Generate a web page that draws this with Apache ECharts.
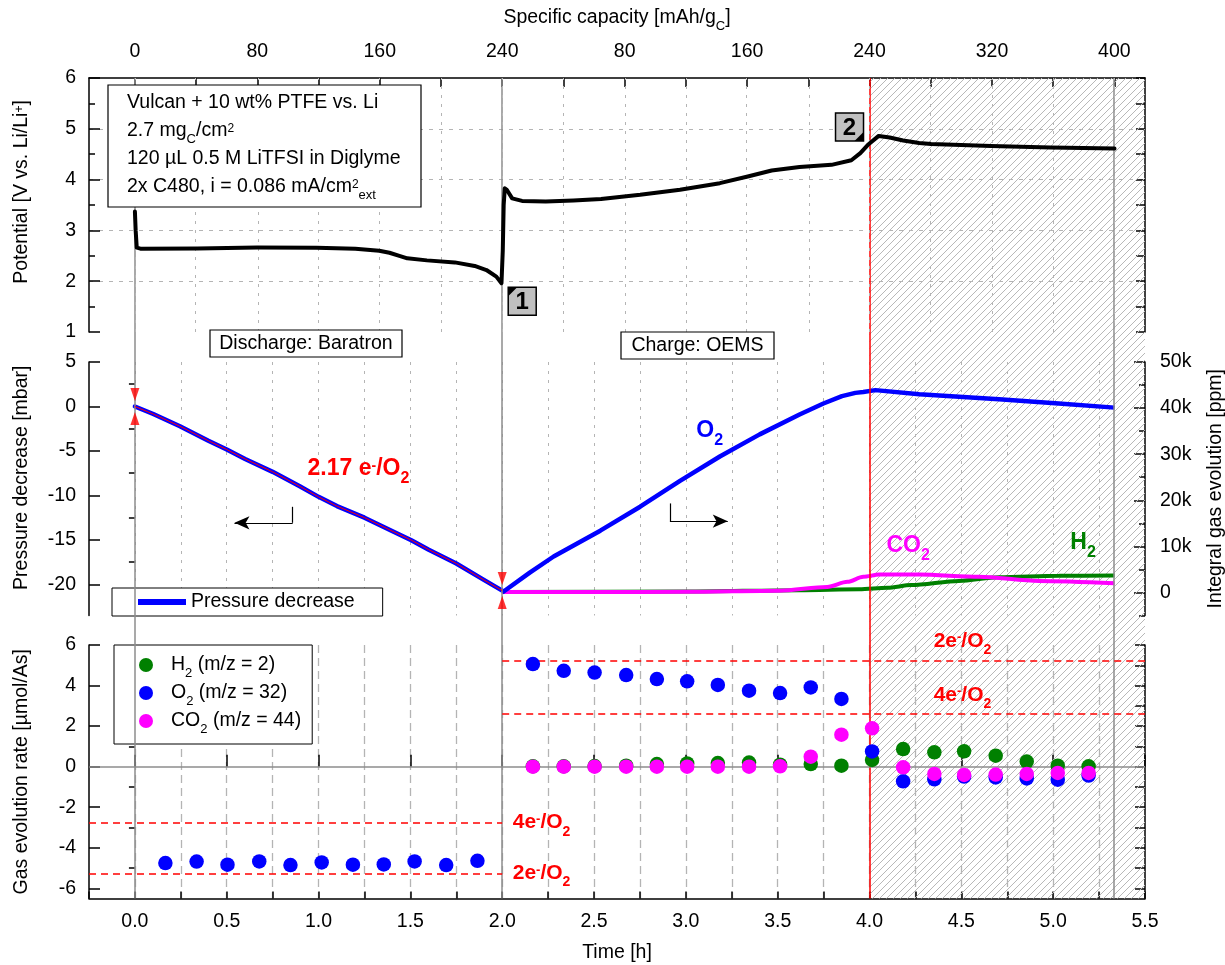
<!DOCTYPE html>
<html>
<head>
<meta charset="utf-8">
<script src="https://cdn.jsdelivr.net/npm/echarts@6/dist/echarts.min.js"></script>
<style>
  html, body { margin: 0; padding: 0; background: #fff; }
  #chart { width: 1225px; height: 965px; }
</style>
</head>
<body>
<div id="chart"></div>
<script>
// ---------------- data ----------------
// time window and phase boundaries [h]
const timeRange = [-0.25, 5.5];
const dischargeEnd = 2.0;
const limitStart = 4.0;

// specific capacity scale (top axis)
const capacityPerHour = 120;          // mAh/gC per hour
const dischargeCapacity = 240;
const chargeEndCapacity = 400;
const capacityTickStep = 40;
const capacityDischargeLabels = [0, 80, 160, 240];
const capacityChargeLabels = [80, 160, 240, 320, 400];

// tick labels
const timeLabels = [0, 0.5, 1, 1.5, 2, 2.5, 3, 3.5, 4, 4.5, 5, 5.5];
const potentialRange = [1, 6];
const pressureRange = [-23.5, 5];
const pressureLabels = [5, 0, -5, -10, -15, -20];
const pressureMinorTicks = [2.5, -2.5, -7.5, -12.5, -17.5, -22.5];
const ppmRange = [-5000, 50000];
const ppmLabels = [0, 10000, 20000, 30000, 40000, 50000];
const ppmMinorTicks = [-5000, 5000, 15000, 25000, 35000, 45000];
const rateRange = [-6.5, 6];
const rateLabels = [-6, -4, -2, 0, 2, 4, 6];
const rateMinorTicks = [-5, -3, -1, 1, 3, 5];

// cell potential [h, V]
const potentialCurve = [
  [0, 3.37], [0.004, 3.0], [0.01, 2.66], [0.03, 2.64], [0.34, 2.645], [0.665, 2.665],
  [0.99, 2.66], [1.2, 2.64], [1.33, 2.60], [1.386, 2.56], [1.44, 2.50], [1.483, 2.45],
  [1.59, 2.41], [1.742, 2.37], [1.85, 2.30], [1.914, 2.22], [1.968, 2.09], [1.996, 1.96],
  [2.003, 2.6], [2.008, 3.5], [2.014, 3.83], [2.025, 3.80], [2.054, 3.63], [2.108, 3.58],
  [2.237, 3.57], [2.388, 3.59], [2.538, 3.62], [2.751, 3.70], [2.968, 3.80], [3.185, 3.93],
  [3.337, 4.06], [3.467, 4.18], [3.619, 4.25], [3.793, 4.29], [3.901, 4.38], [3.95, 4.52],
  [3.99, 4.68], [4.05, 4.86], [4.11, 4.83], [4.183, 4.77], [4.27, 4.72], [4.335, 4.70],
  [4.661, 4.66], [4.987, 4.63], [5.334, 4.61]
];
// numbered points on the potential curve [h, V, number, box placement]
const potentialMarkers = [[2.0, 1.96, 1, 0], [4.0, 4.70, 2, 1]];

// Baratron pressure decrease during discharge [h, mbar]
const pressureCurve = [
  [0, 0], [0.1, -0.85], [0.245, -2.22], [0.4, -3.85], [0.5, -4.84], [0.6, -5.9],
  [0.75, -7.35], [0.9, -9.0], [1.0, -10.16], [1.1, -11.2], [1.25, -12.5], [1.4, -14.0],
  [1.505, -15.03], [1.6, -16.1], [1.75, -17.65], [1.9, -19.5], [2.0, -20.7]
];
const electronsPerO2 = '2.17';

// OEMS integral gas evolution during charge [h, ppm]
const o2Integral = [
  [2.0, 0], [2.15, 4300], [2.28, 7800], [2.534, 13400], [2.751, 18600], [2.968, 24200],
  [3.185, 29500], [3.402, 34300], [3.619, 38600], [3.749, 41000], [3.85, 42600],
  [3.923, 43300], [3.966, 43500], [4.032, 43900], [4.271, 43000], [4.705, 41900],
  [5.03, 41000], [5.334, 40100]
];
const co2Integral = [
  [2.0, 100], [2.5, 100], [3.0, 150], [3.51, 370], [3.77, 1200], [3.88, 2300],
  [3.966, 3400], [4.053, 3900], [4.27, 3900], [4.596, 3400], [4.922, 2500], [5.334, 2000]
];
const h2Integral = [
  [2.0, 100], [3.0, 200], [3.619, 500], [3.944, 700], [4.097, 1000], [4.227, 1600],
  [4.487, 2500], [4.705, 3300], [5.03, 3600], [5.334, 3700]
];

// gas evolution rates [µmol/As]
const dischargeRateTime = [0.166, 0.336, 0.504, 0.677, 0.847, 1.017, 1.187, 1.355, 1.523, 1.695, 1.865];
const o2RateDischarge = [-4.75, -4.68, -4.83, -4.67, -4.85, -4.72, -4.83, -4.82, -4.67, -4.85, -4.64];
const chargeRateTime = [2.167, 2.335, 2.503, 2.675, 2.842, 3.007, 3.174, 3.344, 3.513, 3.680,
  3.847, 4.014, 4.183, 4.353, 4.515, 4.687, 4.856, 5.025, 5.193];
const o2RateCharge = [5.06, 4.73, 4.64, 4.52, 4.32, 4.21, 4.03, 3.75, 3.63, 3.91,
  3.34, 0.75, -0.72, -0.62, -0.49, -0.53, -0.58, -0.64, -0.44];
const co2RateCharge = [0.0, 0.0, 0.0, 0.0, 0.0, 0.0, 0.0, 0.0, 0.02, 0.49,
  1.58, 1.89, -0.03, -0.36, -0.41, -0.39, -0.36, -0.31, -0.31];
const h2RateCharge = [0.02, 0.02, 0.03, 0.05, 0.13, 0.16, 0.18, 0.20, 0.10, 0.13,
  0.05, 0.33, 0.87, 0.71, 0.76, 0.54, 0.25, 0.05, 0.02];

// theoretical rates for 2 and 4 electrons per O2 [µmol/As]
const dischargeTwoE = -5.27, dischargeFourE = -2.76;
const chargeTwoE = 5.22, chargeFourE = 2.61;

// ---------------- helpers ----------------
const FONT = "'Liberation Sans', Arial, Helvetica, sans-serif";
const FS = 19.5;
const BLACK = '#000';
const BLUE = '#0000ff', RED = '#ff0000', GREEN = '#008000', MAGENTA = '#ff00ff';
const GRID_GRAY = '#b4b4b4', LINE_GRAY = '#8c8c8c';

// rich text with _{sub} and ^{sup}
function rt(s) {
  return s.split('\n').map(line => line.split(/(_\{[^}]*\}|\^\{[^}]*\})/).filter(Boolean).map(p => {
    if (p.startsWith('_{')) return '{sub|' + p.slice(2, -1) + '}';
    if (p.startsWith('^{')) return '{sup|' + p.slice(2, -1) + '}';
    return '{n|' + p + '}';
  }).join('')).join('\n');
}
function richSet(size, color, weight) {
  const lh = Math.round(size * 1.45);
  const base = { fontFamily: FONT, color: color, fontWeight: weight || 'normal' };
  return {
    n: Object.assign({ fontSize: size, lineHeight: lh }, base),
    sub: Object.assign({ fontSize: Math.round(size * 0.68), lineHeight: lh, height: Math.round(size * 0.58), verticalAlign: 'bottom' }, base),
    sup: Object.assign({ fontSize: Math.round(size * 0.63), lineHeight: lh, height: Math.round(size * 1.16), verticalAlign: 'top' }, base)
  };
}
const RT = richSet(FS, BLACK);
const zip = (xs, ys) => xs.map((x, i) => [x, ys[i]]);

const capacityLabelTimes = capacityDischargeLabels.map(c => c / capacityPerHour)
  .concat(capacityChargeLabels.map(c => dischargeEnd + c / capacityPerHour));
const capacityLabelText = capacityDischargeLabels.concat(capacityChargeLabels);
const capacityTickTimes = [];
for (let c = 0; c <= dischargeCapacity; c += capacityTickStep) capacityTickTimes.push(c / capacityPerHour);
for (let c = capacityTickStep; c <= chargeEndCapacity; c += capacityTickStep) capacityTickTimes.push(dischargeEnd + c / capacityPerHour);
const chargeEnd = dischargeEnd + chargeEndCapacity / capacityPerHour;

function capacityLabel(v) {
  let best = 0;
  capacityLabelTimes.forEach((t, i) => { if (Math.abs(t - v) < Math.abs(capacityLabelTimes[best] - v)) best = i; });
  return String(capacityLabelText[best]);
}

// diagonal hatching for the region beyond the charge limit
const hatch = document.createElement('canvas');
hatch.width = 7; hatch.height = 7;
(function () {
  const g = hatch.getContext('2d');
  g.strokeStyle = '#b8b8b8'; g.lineWidth = 1;
  g.beginPath();
  g.moveTo(-1, 8); g.lineTo(8, -1);
  g.moveTo(-1, 1); g.lineTo(1, -1);
  g.moveTo(6, 8); g.lineTo(8, 6);
  g.stroke();
})();

const axisLine = { show: true, onZero: false, lineStyle: { color: BLACK, width: 1.5 } };
const tickLine = { color: BLACK, width: 1.5 };
const labelStyle = { fontSize: FS, fontFamily: FONT, color: BLACK, hideOverlap: false };
const nameCommon = { nameLocation: 'middle', nameMoveOverlap: false };
function tickAxis(extra) {
  return Object.assign({
    type: 'value', axisLine: { show: false }, axisLabel: { show: false },
    splitLine: { show: false }
  }, extra);
}
const tinyPoint = { symbol: 'circle', symbolSize: 1, itemStyle: { color: 'rgba(0,0,0,0)' } };

// ---------------- chart ----------------
const chart = echarts.init(document.getElementById('chart'), null, { renderer: 'canvas' });

const option = {
  animation: false,
  backgroundColor: '#fff',
  textStyle: { fontFamily: FONT },
  grid: [
    { left: 89, right: 80, top: 78, height: 254, outerBoundsMode: 'none' },
    { left: 89, right: 80, top: 362, height: 253.5, outerBoundsMode: 'none' },
    { left: 89, right: 80, top: 645, height: 253.5, outerBoundsMode: 'none' },
    { left: 89, right: 80, top: 78, height: 820.5, outerBoundsMode: 'none' }
  ],
  xAxis: [
    Object.assign({
      type: 'value', gridIndex: 0, position: 'top', min: timeRange[0], max: timeRange[1],
      axisLine: axisLine,
      axisTick: { show: true, inside: true, length: 9, customValues: capacityTickTimes, lineStyle: tickLine },
      axisLabel: Object.assign({ customValues: capacityLabelTimes, formatter: capacityLabel, margin: 16 }, labelStyle),
      splitLine: { show: false },
      name: rt('Specific capacity [mAh/g_{C}]'), nameGap: 46, nameTextStyle: { rich: RT }
    }, nameCommon),
    {
      type: 'value', gridIndex: 1, min: timeRange[0], max: timeRange[1], interval: 0.25,
      axisLine: { show: false }, axisTick: { show: false }, axisLabel: { show: false },
      splitLine: { show: true, showMinLine: false, showMaxLine: false, lineStyle: { color: GRID_GRAY, width: 1, type: [3, 6] } }
    },
    Object.assign({
      type: 'value', gridIndex: 2, position: 'bottom', min: timeRange[0], max: timeRange[1], interval: 0.25,
      axisLine: axisLine,
      axisTick: { show: true, inside: true, length: 7, lineStyle: tickLine },
      axisLabel: Object.assign({ customValues: timeLabels, formatter: v => v.toFixed(1), margin: 13 }, labelStyle),
      splitLine: { show: true, showMinLine: false, showMaxLine: false, lineStyle: { color: GRID_GRAY, width: 1.3, type: [8, 5] } },
      name: 'Time [h]', nameGap: 44, nameTextStyle: { fontSize: FS, fontFamily: FONT, color: BLACK }
    }, nameCommon),
    tickAxis({ gridIndex: 2, position: 'bottom', min: timeRange[0], max: timeRange[1],
      axisTick: { show: true, inside: true, length: 12, customValues: timeLabels, lineStyle: tickLine } }),
    { type: 'value', gridIndex: 3, min: timeRange[0], max: timeRange[1], show: false }
  ],
  yAxis: [
    Object.assign({
      type: 'value', gridIndex: 0, min: potentialRange[0], max: potentialRange[1], interval: 1,
      axisLine: axisLine,
      axisTick: { show: true, inside: true, length: 11, lineStyle: tickLine },
      minorTick: { show: true, splitNumber: 2, length: 6, lineStyle: tickLine },
      axisLabel: Object.assign({ margin: 13 }, labelStyle),
      splitLine: { show: true, showMinLine: false, showMaxLine: false, lineStyle: { color: GRID_GRAY, width: 1, type: [4, 6] } },
      name: rt('Potential [V vs. Li/Li^{+}]'), nameGap: 53, nameTextStyle: { rich: RT, padding: [0, 0, 0, 26] }
    }, nameCommon),
    tickAxis({ gridIndex: 0, position: 'right', min: potentialRange[0], max: potentialRange[1], interval: 0.5,
      axisLine: axisLine, axisTick: { show: true, inside: true, length: 9, lineStyle: tickLine } }),
    Object.assign({
      type: 'value', gridIndex: 1, min: pressureRange[0], max: pressureRange[1],
      axisLine: axisLine,
      axisTick: { show: true, inside: true, length: 11, customValues: pressureLabels, lineStyle: tickLine },
      axisLabel: Object.assign({ customValues: pressureLabels, margin: 13 }, labelStyle),
      splitLine: { show: false },
      name: 'Pressure decrease [mbar]', nameGap: 53,
      nameTextStyle: { fontSize: FS, fontFamily: FONT, color: BLACK, lineHeight: 28, padding: [0, 0, 0, 22] }
    }, nameCommon),
    tickAxis({ gridIndex: 1, min: pressureRange[0], max: pressureRange[1],
      axisTick: { show: true, inside: true, length: 6, customValues: pressureMinorTicks, lineStyle: tickLine } }),
    Object.assign({
      type: 'value', gridIndex: 1, position: 'right', min: ppmRange[0], max: ppmRange[1],
      axisLine: axisLine,
      axisTick: { show: true, inside: true, length: 11, customValues: ppmLabels, lineStyle: tickLine },
      axisLabel: Object.assign({ customValues: ppmLabels, margin: 15, formatter: v => v === 0 ? '0' : (v / 1000) + 'k' }, labelStyle),
      splitLine: { show: false },
      name: 'Integral gas evolution [ppm]', nameGap: 60,
      nameTextStyle: { fontSize: FS, fontFamily: FONT, color: BLACK, lineHeight: 22 }
    }, nameCommon),
    tickAxis({ gridIndex: 1, position: 'right', min: ppmRange[0], max: ppmRange[1],
      axisTick: { show: true, inside: true, length: 6, customValues: ppmMinorTicks, lineStyle: tickLine } }),
    Object.assign({
      type: 'value', gridIndex: 2, min: rateRange[0], max: rateRange[1],
      axisLine: axisLine,
      axisTick: { show: true, inside: true, length: 11, customValues: rateLabels, lineStyle: tickLine },
      axisLabel: Object.assign({ customValues: rateLabels, margin: 13 }, labelStyle),
      splitLine: { show: false },
      name: 'Gas evolution rate [µmol/As]', nameGap: 53,
      nameTextStyle: { fontSize: FS, fontFamily: FONT, color: BLACK, lineHeight: 28 }
    }, nameCommon),
    tickAxis({ gridIndex: 2, min: rateRange[0], max: rateRange[1],
      axisTick: { show: true, inside: true, length: 6, customValues: rateMinorTicks, lineStyle: tickLine } }),
    tickAxis({ gridIndex: 2, position: 'right', min: rateRange[0], max: rateRange[1], axisLine: axisLine,
      axisTick: { show: true, inside: true, length: 10, customValues: rateLabels.concat(rateMinorTicks), lineStyle: tickLine } }),
    { type: 'value', gridIndex: 3, min: 0, max: 1, show: false }
  ],
  legend: [
    {
      data: ['Pressure decrease'], left: 112, top: 588, orient: 'horizontal', selectedMode: false,
      icon: 'rect', itemWidth: 48, itemHeight: 6,
      padding: [3, 28, 3, 26], backgroundColor: '#fff', borderColor: BLACK, borderWidth: 1,
      textStyle: { fontSize: FS, fontFamily: FONT, color: BLACK, lineHeight: 22 }
    },
    {
      data: ['H2 rate', 'O2 rate', 'CO2 rate'], left: 114, top: 645, orient: 'vertical', selectedMode: false,
      icon: 'circle', itemWidth: 40, itemHeight: 14, itemGap: 3,
      padding: [10, 11, 8, 25], backgroundColor: '#fff', borderColor: BLACK, borderWidth: 1,
      formatter: name => rt({ 'H2 rate': 'H_{2} (m/z = 2)', 'O2 rate': 'O_{2} (m/z = 32)', 'CO2 rate': 'CO_{2} (m/z = 44)' }[name]),
      textStyle: { rich: RT, fontSize: FS, fontFamily: FONT, color: BLACK }
    }
  ],
  graphic: [
    { type: 'rect', z: 100, shape: { x: 108, y: 85, width: 313, height: 122 },
      style: { fill: '#fff', stroke: BLACK, lineWidth: 1.2 } },
    { type: 'text', z: 101, x: 127, y: 89,
      style: {
        text: rt('Vulcan + 10 wt% PTFE vs. Li\n2.7 mg_{C}/cm^{2}\n120 µL 0.5 M LiTFSI in Diglyme\n2x C480, i = 0.086 mA/cm^{2}_{ext}'),
        rich: RT, fill: BLACK, font: FS + 'px ' + FONT
      } },
    { type: 'rect', z: 100, shape: { x: 210, y: 330, width: 192, height: 27 },
      style: { fill: '#fff', stroke: BLACK, lineWidth: 1.2 } },
    { type: 'text', z: 101, x: 306, y: 344,
      style: { text: 'Discharge: Baratron', fill: BLACK, font: FS + 'px ' + FONT,
        align: 'center', verticalAlign: 'middle', textAlign: 'center', textVerticalAlign: 'middle' } },
    { type: 'rect', z: 100, shape: { x: 621, y: 332, width: 153, height: 27 },
      style: { fill: '#fff', stroke: BLACK, lineWidth: 1.2 } },
    { type: 'text', z: 101, x: 697.5, y: 346,
      style: { text: 'Charge: OEMS', fill: BLACK, font: FS + 'px ' + FONT,
        align: 'center', verticalAlign: 'middle', textAlign: 'center', textVerticalAlign: 'middle' } }
  ],
  series: [
    // frame across all panels: hatched region, phase boundaries
    {
      name: 'frame', type: 'line', xAxisIndex: 4, yAxisIndex: 9, data: [], z: 1, silent: true,
      markArea: { silent: true, itemStyle: { color: { image: hatch, repeat: 'repeat' }, opacity: 1, borderWidth: 0 },
        data: [[{ xAxis: limitStart }, { xAxis: timeRange[1] }]] },
      markLine: {
        silent: true, symbol: ['none', 'none'], label: { show: false }, animation: false,
        lineStyle: { color: LINE_GRAY, width: 1.5, type: 'solid' },
        data: [
          { xAxis: 0 }, { xAxis: dischargeEnd }, { xAxis: chargeEnd },
          { xAxis: limitStart, lineStyle: { color: RED, width: 1.5, type: 'solid' } }
        ]
      }
    },
    // capacity grid lines of the potential panel
    {
      name: 'capacity grid', type: 'line', xAxisIndex: 0, yAxisIndex: 0, data: [], z: 1, silent: true,
      markLine: {
        silent: true, symbol: ['none', 'none'], label: { show: false }, animation: false,
        lineStyle: { color: GRID_GRAY, width: 1, type: [3, 6] },
        data: capacityTickTimes.map(t => ({ xAxis: t }))
      }
    },
    {
      name: 'Potential', type: 'line', xAxisIndex: 0, yAxisIndex: 0, data: potentialCurve, z: 5,
      showSymbol: false,
      lineStyle: { color: BLACK, width: 4, cap: 'round', join: 'round' }
    },
    {
      name: 'markers', type: 'custom', xAxisIndex: 0, yAxisIndex: 0, data: potentialMarkers, z: 6, silent: true,
      renderItem: function (params, api) {
        const p = api.coord([api.value(0), api.value(1)]);
        const s = 28, c = 9;
        const below = api.value(3) === 0;
        const x0 = below ? p[0] + 6 : p[0] - 6 - s;
        const y0 = below ? p[1] + 4 : p[1] - 3 - s;
        const tri = below ? [[x0, y0], [x0 + c, y0], [x0, y0 + c]]
                          : [[x0 + s, y0 + s], [x0 + s - c, y0 + s], [x0 + s, y0 + s - c]];
        return {
          type: 'group', children: [
            { type: 'rect', shape: { x: x0, y: y0, width: s, height: s }, style: { fill: '#c0c0c0', stroke: BLACK, lineWidth: 1.5 } },
            { type: 'polygon', shape: { points: tri }, style: { fill: BLACK } },
            { type: 'text', style: { x: x0 + s / 2, y: y0 + s / 2 + 1, text: String(api.value(2)), fill: BLACK,
                font: 'bold 24px ' + FONT, align: 'center', verticalAlign: 'middle', textAlign: 'center', textVerticalAlign: 'middle' } }
          ]
        };
      }
    },
    // middle panel: pressure and integral gas evolution
    {
      name: 'Pressure decrease', type: 'line', xAxisIndex: 1, yAxisIndex: 2, data: pressureCurve, z: 4,
      showSymbol: false, lineStyle: { color: BLUE, width: 4.5, cap: 'round', join: 'round' }, itemStyle: { color: BLUE },
      markPoint: Object.assign({
        silent: true,
        data: [{
          coord: [1.217, -7.02],
          label: { show: true, position: 'inside', formatter: () => rt(electronsPerO2 + ' e^{-}/O_{2}'), rich: richSet(23, RED, 'bold') }
        }]
      }, tinyPoint)
    },
    {
      name: 'pressure fit', type: 'line', xAxisIndex: 1, yAxisIndex: 2, data: pressureCurve, z: 5,
      showSymbol: false, lineStyle: { color: RED, width: 1 }
    },
    {
      name: 'start/end top', type: 'scatter', xAxisIndex: 1, yAxisIndex: 2, z: 6, silent: true,
      data: [pressureCurve[0], pressureCurve[pressureCurve.length - 1]],
      symbol: 'triangle', symbolSize: [9, 13], symbolRotate: 180, symbolOffset: [0, -12],
      itemStyle: { color: RED }
    },
    {
      name: 'start/end bottom', type: 'scatter', xAxisIndex: 1, yAxisIndex: 2, z: 6, silent: true,
      data: [pressureCurve[0], pressureCurve[pressureCurve.length - 1]],
      symbol: 'triangle', symbolSize: [9, 13], symbolOffset: [0, 12],
      itemStyle: { color: RED }
    },
    {
      name: 'direction arrows', type: 'line', xAxisIndex: 1, yAxisIndex: 2, data: [], z: 5, silent: true,
      markLine: {
        silent: true, symbol: ['none', 'none'], symbolSize: [10, 15], label: { show: false }, animation: false,
        lineStyle: { color: BLACK, width: 1.2, type: 'solid' },
        data: [
          [{ coord: [0.859, -11.28] }, { coord: [0.859, -13.08] }],
          [{ coord: [0.859, -13.08] }, { coord: [0.542, -13.08], symbol: 'arrow' }],
          [{ coord: [2.913, -10.9] }, { coord: [2.913, -12.89] }],
          [{ coord: [2.913, -12.89] }, { coord: [3.228, -12.89], symbol: 'arrow' }]
        ]
      }
    },
    {
      name: 'H2 integral', type: 'line', xAxisIndex: 1, yAxisIndex: 4, data: h2Integral, z: 4,
      showSymbol: false, smooth: 0.3, smoothMonotone: 'x', lineStyle: { color: GREEN, width: 4 },
      markPoint: Object.assign({ silent: true, data: [{ coord: [5.163, 10900],
        label: { show: true, position: 'inside', formatter: () => rt('H_{2}'), rich: richSet(23, GREEN, 'bold') } }] }, tinyPoint)
    },
    {
      name: 'CO2 integral', type: 'line', xAxisIndex: 1, yAxisIndex: 4, data: co2Integral, z: 4,
      showSymbol: false, smooth: 0.3, smoothMonotone: 'x', lineStyle: { color: MAGENTA, width: 4 },
      markPoint: Object.assign({ silent: true, data: [{ coord: [4.21, 10100],
        label: { show: true, position: 'inside', formatter: () => rt('CO_{2}'), rich: richSet(23, MAGENTA, 'bold') } }] }, tinyPoint)
    },
    {
      name: 'O2 integral', type: 'line', xAxisIndex: 1, yAxisIndex: 4, data: o2Integral, z: 4,
      showSymbol: false, lineStyle: { color: BLUE, width: 4.5, join: 'round' },
      markPoint: Object.assign({ silent: true, data: [{ coord: [3.13, 35200],
        label: { show: true, position: 'inside', formatter: () => rt('O_{2}'), rich: richSet(23, BLUE, 'bold') } }] }, tinyPoint)
    },
    // bottom panel: zero line, electron-per-O2 reference rates
    {
      name: 'rate references', type: 'line', xAxisIndex: 2, yAxisIndex: 6, data: [], z: 3, silent: true,
      markLine: {
        silent: true, symbol: ['none', 'none'], label: { show: false }, animation: false,
        lineStyle: { color: RED, width: 1.5, type: [7, 5] },
        data: [
          [{ coord: [timeRange[0], 0], lineStyle: { color: LINE_GRAY, width: 1.5, type: 'solid' } }, { coord: [timeRange[1], 0] }],
          [{ coord: [timeRange[0], dischargeFourE] }, { coord: [dischargeEnd, dischargeFourE] }],
          [{ coord: [timeRange[0], dischargeTwoE] }, { coord: [dischargeEnd, dischargeTwoE] }],
          [{ coord: [dischargeEnd, chargeTwoE] }, { coord: [timeRange[1], chargeTwoE] }],
          [{ coord: [dischargeEnd, chargeFourE] }, { coord: [timeRange[1], chargeFourE] }]
        ]
      },
      markPoint: Object.assign({
        silent: true,
        label: { show: true, rich: richSet(21, RED, 'bold') },
        data: [
          { coord: [dischargeEnd, dischargeFourE], label: { position: 'right', distance: 10, formatter: () => rt('4e^{-}/O_{2}') } },
          { coord: [dischargeEnd, dischargeTwoE], label: { position: 'right', distance: 10, formatter: () => rt('2e^{-}/O_{2}') } },
          { coord: [4.506, chargeTwoE], label: { position: 'inside', offset: [0, -20], formatter: () => rt('2e^{-}/O_{2}') } },
          { coord: [4.506, chargeFourE], label: { position: 'inside', offset: [0, -19], formatter: () => rt('4e^{-}/O_{2}') } }
        ]
      }, tinyPoint)
    },
    {
      name: 'H2 rate', type: 'scatter', xAxisIndex: 2, yAxisIndex: 6, z: 5,
      data: zip(chargeRateTime, h2RateCharge), symbolSize: 14.5, itemStyle: { color: GREEN, opacity: 1 }
    },
    {
      name: 'O2 rate', type: 'scatter', xAxisIndex: 2, yAxisIndex: 6, z: 5,
      data: zip(dischargeRateTime, o2RateDischarge).concat(zip(chargeRateTime, o2RateCharge)),
      symbolSize: 14.5, itemStyle: { color: BLUE, opacity: 1 }
    },
    {
      name: 'CO2 rate', type: 'scatter', xAxisIndex: 2, yAxisIndex: 6, z: 5,
      data: zip(chargeRateTime, co2RateCharge), symbolSize: 14.5, itemStyle: { color: MAGENTA, opacity: 1 }
    }
  ]
};

chart.setOption(option);
</script>
</body>
</html>
